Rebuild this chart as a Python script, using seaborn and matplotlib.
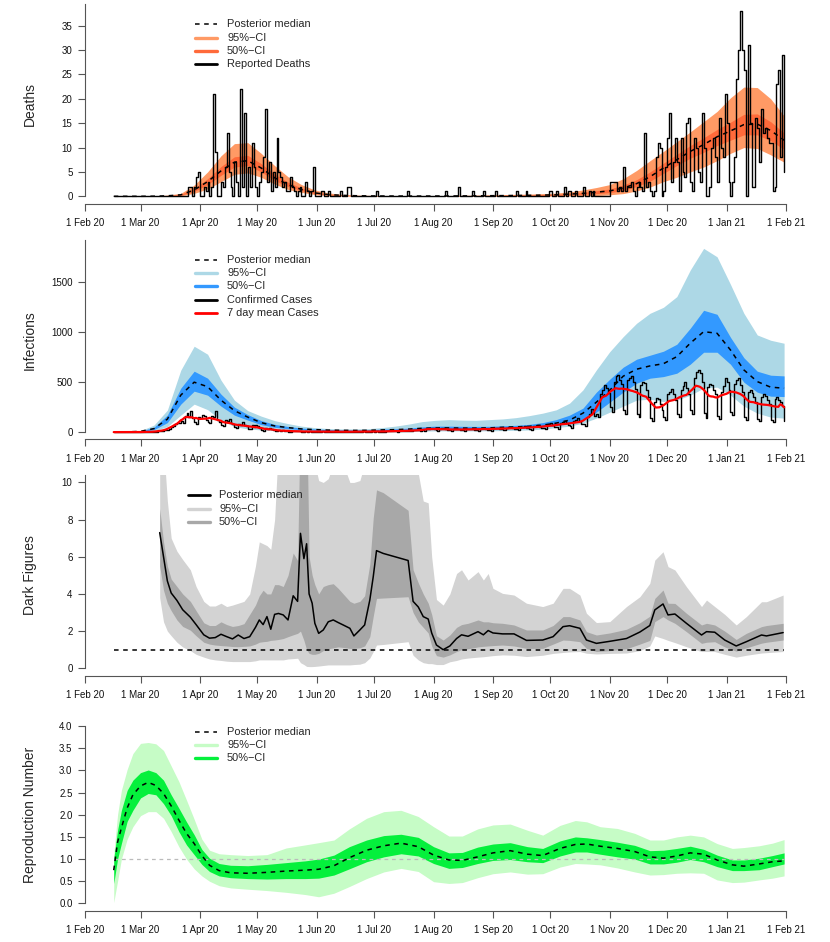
import numpy as np
import pandas as pd
import matplotlib
matplotlib.use("Agg")
import matplotlib.pyplot as plt
import matplotlib.dates as mdates
from matplotlib.lines import Line2D
import seaborn as sns

START = pd.Timestamp("2020-02-01")
END = pd.Timestamp("2021-02-01")

# all day positions are days since 1 Feb 2020
week_days = list(range(15, 366, 7))      # weekly posterior summaries
daily_days = list(range(15, 366))        # daily reported numbers

# ---- deaths panel ----
deaths_reported = [
    0, 0, 0, 0, 0, 0, 0,   0, 0, 0, 0, 0, 0, 0,   0, 0, 0, 0, 0, 0, 0,
    0, 0, 0, 0, 0, 0, 0,   0, 0, 0, 0, 0, 0, 0,   0, 0, 0, 0, 2, 2, 0,
    2, 4, 5, 0, 0, 2, 1,   3, 0, 2, 21, 9, 0, 0,  3, 2, 6, 13, 5, 2, 0,
    7, 3, 0, 22, 2, 17, 0, 6, 2, 11, 6, 2, 0, 3,  5, 8, 18, 3, 7, 1, 5,
    2, 12, 5, 4, 2, 3, 1,  1, 4, 2, 1, 0, 1, 2,   0, 0, 3, 1, 0, 1, 6,
    0, 0, 0, 1, 1, 0, 0,   1, 0, 0, 0, 0, 0, 1,   0, 0, 0, 2, 2, 0, 0,
    0, 0, 0, 0, 0, 0, 0,   0, 0, 0, 0, 1, 0, 0,   0, 0, 0, 0, 0, 0, 0,
    0, 0, 0, 0, 0, 0, 1,   0, 0, 0, 0, 0, 0, 0,   0, 0, 0, 0, 0, 0, 0,
    0, 0, 0, 0, 0, 1, 0,   0, 0, 0, 0, 0, 2, 0,   0, 0, 0, 0, 0, 1, 0,
    0, 0, 0, 0, 1, 0, 0,   0, 0, 0, 1, 0, 0, 0,   0, 0, 0, 0, 0, 0, 0,
    1, 0, 0, 0, 0, 1, 0,   0, 0, 0, 0, 0, 0, 0,   0, 0, 0, 1, 1, 0, 0,
    1, 0, 0, 0, 2, 0, 1,   1, 0, 0, 1, 0, 0, 0,   2, 0, 0, 1, 0, 1, 0,
    0, 0, 0, 0, 0, 0, 0,   3, 3, 3, 3, 1, 2, 1,   6, 1, 2, 2, 3, 1, 0,
    2, 3, 2, 1, 13, 2, 3,  1, 0, 1, 8, 11, 10, 0, 1, 6, 12, 17, 3, 7, 12,
    7, 1, 12, 5, 4, 15, 16, 3, 1, 12, 10, 5, 3, 17, 10, 0, 0, 2, 10, 12, 8,
    3, 16, 10, 8, 21, 15, 3, 0, 3, 8, 24, 30, 38, 30, 26, 0, 31, 15, 2, 2, 16,
    14, 7, 18, 13, 14, 12, 11, 11, 1, 2, 23, 26, 8, 29, 5,
]
deaths_med = [0, 0, 0, 0.02, 0.1, 0.3, 1.3, 3.0, 5.2, 7.0,
              7.3, 5.8, 3.8, 2.4, 1.4, 0.7, 0.35, 0.2, 0.12, 0.08,
              0.06, 0.05, 0.05, 0.05, 0.06, 0.07, 0.08, 0.1, 0.12, 0.14,
              0.17, 0.2, 0.25, 0.3, 0.45, 0.6, 0.85, 1.1, 1.7, 2.6,
              4.0, 5.8, 7.5, 9.2, 10.6, 12.2, 13.4, 14.7, 14.8, 13.5, 11.5]
deaths_hi95 = [0, 0, 0.02, 0.06, 0.25, 0.6, 2.3, 5.0, 8.3, 10.8,
               11.0, 8.8, 6.3, 4.0, 2.4, 1.3, 0.7, 0.4, 0.25, 0.2,
               0.15, 0.13, 0.12, 0.12, 0.14, 0.16, 0.2, 0.25, 0.3, 0.35,
               0.4, 0.45, 0.55, 0.65, 0.9, 1.3, 1.8, 2.4, 3.6, 5.3,
               7.3, 9.2, 11.2, 13.2, 15.3, 17.4, 20.2, 22.4, 22.3, 20.0, 16.5]
deaths_lo95 = [0, 0, 0, 0, 0.02, 0.1, 0.6, 1.5, 3.0, 4.5,
               4.8, 3.9, 2.5, 1.4, 0.8, 0.35, 0.15, 0.05, 0.02, 0.01,
               0.01, 0.01, 0.01, 0.01, 0.01, 0.01, 0.01, 0.02, 0.02, 0.03,
               0.03, 0.04, 0.05, 0.06, 0.08, 0.1, 0.15, 0.3, 0.55, 1.1,
               1.9, 3.0, 3.9, 5.0, 6.0, 7.3, 8.8, 10.0, 9.8, 8.5, 7.0]
deaths_hi50 = [0, 0, 0.01, 0.03, 0.15, 0.39, 1.6, 3.6, 6.1, 8.1,
               8.4, 6.7, 4.55, 2.9, 1.7, 0.88, 0.45, 0.26, 0.16, 0.12,
               0.09, 0.08, 0.08, 0.08, 0.09, 0.1, 0.12, 0.14, 0.17, 0.2,
               0.24, 0.27, 0.34, 0.4, 0.58, 0.8, 1.15, 1.5, 2.3, 3.4,
               5.0, 6.8, 8.6, 10.4, 12.0, 13.7, 15.2, 16.8, 16.9, 15.3, 13.0]
deaths_lo50 = [0, 0, 0, 0.01, 0.06, 0.22, 1.0, 2.4, 4.3, 6.0,
               6.3, 5.0, 3.25, 2.0, 1.15, 0.55, 0.27, 0.14, 0.08, 0.05,
               0.04, 0.03, 0.03, 0.03, 0.04, 0.04, 0.05, 0.06, 0.07, 0.09,
               0.1, 0.12, 0.17, 0.2, 0.3, 0.4, 0.55, 0.75, 1.2, 2.0,
               3.1, 4.7, 6.3, 7.8, 9.0, 10.4, 11.5, 12.6, 12.6, 11.4, 9.6]

# ---- infections panel ----
cases_confirmed = [
    0, 0, 0, 0, 0, 0, 0,          0, 0, 0, 0, 0, 0, 1,
    0, 1, 2, 1, 3, 2, 4,          4, 3, 8, 12, 15, 20, 22,
    25, 30, 50, 65, 80, 90, 95,   110, 95, 160, 196, 150, 210, 140,
    100, 85, 150, 140, 170, 160, 120, 105, 90, 160, 150, 213, 120, 100,
    70, 60, 120, 110, 130, 90, 80, 50, 45, 80, 70, 100, 75, 60,
    35, 30, 70, 50, 75, 60, 40,   20, 15, 40, 35, 45, 30, 25,
    10, 8, 20, 15, 25, 15, 12,    6, 4, 12, 10, 14, 9, 8,
    4, 3, 8, 6, 9, 6, 5,          3, 2, 6, 5, 7, 5, 4,
    3, 2, 5, 4, 6, 4, 3,          2, 2, 5, 4, 6, 4, 3,
    3, 2, 6, 5, 7, 5, 4,          4, 3, 8, 6, 9, 6, 5,
    6, 4, 10, 8, 12, 9, 7,        8, 6, 14, 12, 16, 12, 10,
    12, 8, 20, 18, 24, 18, 14,    18, 12, 30, 35, 45, 40, 30,
    20, 15, 35, 40, 38, 30, 25,   18, 14, 30, 32, 35, 28, 22,
    18, 14, 32, 34, 36, 30, 24,   20, 15, 35, 38, 40, 32, 26,
    22, 16, 40, 42, 45, 36, 30,   25, 18, 45, 48, 50, 40, 34,
    28, 20, 50, 55, 60, 45, 38,   32, 24, 60, 65, 70, 55, 45,
    40, 30, 75, 80, 90, 70, 55,   50, 35, 95, 105, 110, 90, 70,
    60, 45, 115, 120, 140, 110, 85, 80, 60, 150, 180, 230, 200, 160,
    180, 150, 380, 420, 470, 440, 390, 250, 200, 500, 560, 573, 520, 480,
    220, 180, 520, 540, 560, 500, 430, 180, 150, 470, 500, 490, 420, 350,
    140, 110, 300, 340, 330, 280, 220, 150, 120, 380, 400, 430, 380, 320,
    180, 150, 420, 460, 506, 440, 380, 220, 180, 540, 600, 620, 590, 500,
    190, 140, 450, 480, 470, 420, 380, 160, 130, 400, 460, 540, 500, 420,
    200, 170, 480, 520, 540, 470, 400, 150, 120, 400, 420, 390, 350, 300,
    130, 110, 350, 380, 360, 320, 280, 120, 100, 330, 350, 323, 300, 260,
    110,
]
inf_med = [0, 2, 8, 35, 130, 370, 500, 455, 320, 215,
           150, 95, 62, 45, 32, 25, 20, 18, 17, 18,
           22, 25, 30, 38, 42, 42, 40, 40, 42, 48,
           52, 58, 70, 90, 120, 190, 300, 420, 560, 630,
           663, 685, 756, 890, 1006, 990, 823, 623, 506, 450, 440]
inf_hi95 = [0, 5, 15, 70, 220, 620, 860, 780, 520, 320,
            215, 160, 115, 85, 60, 45, 36, 32, 32, 35,
            45, 60, 80, 105, 118, 125, 120, 118, 125, 132,
            145, 165, 190, 223, 290, 423, 623, 806, 956, 1090,
            1190, 1250, 1357, 1623, 1840, 1756, 1480, 1190, 973, 920, 890]
inf_lo95 = [0, 0.5, 2, 12, 55, 170, 280, 225, 120, 55,
            32, 22, 15, 12, 10, 8, 7, 6, 6, 6,
            5, 6, 8, 10, 12, 12, 12, 12, 13, 15,
            18, 22, 30, 45, 60, 90, 140, 200, 260, 320,
            330, 306, 320, 370, 440, 450, 370, 260, 190, 150, 140]
inf_hi50 = [0, 3, 11, 48, 170, 440, 610, 540, 380, 250,
            175, 115, 78, 56, 41, 32, 26, 23, 22, 24,
            30, 34, 40, 52, 60, 60, 58, 57, 58, 63,
            68, 78, 95, 125, 170, 240, 400, 530, 650, 730,
            770, 810, 880, 1040, 1220, 1180, 950, 745, 610, 570, 563]
inf_lo50 = [0, 1.5, 5, 25, 95, 280, 410, 370, 260, 170,
            120, 75, 48, 34, 24, 18, 15, 13, 12, 13,
            15, 17, 22, 26, 30, 30, 28, 28, 29, 33,
            38, 42, 52, 65, 85, 130, 200, 300, 400, 490,
            540, 556, 590, 680, 800, 800, 680, 500, 400, 360, 356]

# ---- dark figures panel ----
dark_days = [39, 41, 43, 45, 48, 51, 55, 58, 62, 65,
             68, 71, 74, 77, 80, 83, 86, 89, 91, 93,
             95, 97, 99, 101, 103.5, 106, 108.7, 111, 112.5, 114.3,
             115.7, 117, 118.6, 120, 122, 124.4, 127, 129.6, 132.2, 134.8,
             138.3, 140.4, 143.5, 146, 148.7, 150.5, 152.2, 155.7, 168.7, 171.3,
             174, 176.6, 179.2, 181, 183.5, 187, 190.5, 194, 196.6, 200,
             205.2, 208, 210.5, 213, 218, 224, 230.5, 239, 244.4, 249.6,
             253, 258.4, 261.8, 267, 274, 282.7, 289.7, 294.9, 297.5, 301.8,
             304.4, 308, 314, 321.9, 324.5, 328.8, 334, 340, 345.3, 353.2,
             355.8, 364.5]
dark_med = [7.3, 6.0, 4.7, 4.05, 3.65, 3.15, 2.75, 2.35, 1.8, 1.62,
            1.65, 1.83, 1.7, 1.58, 1.79, 1.6, 1.7, 2.2, 2.6, 2.35,
            2.78, 2.1, 2.9, 2.95, 2.87, 2.6, 3.9, 3.6, 7.26, 5.9,
            6.7, 4.0, 3.5, 2.42, 1.88, 2.06, 2.5, 2.6, 2.46, 2.33,
            2.15, 1.74, 2.06, 2.33, 3.67, 4.93, 6.33, 6.18, 5.8, 3.6,
            3.3, 2.78, 2.65, 1.9, 1.25, 1.0, 1.2, 1.6, 1.8, 1.72,
            1.97, 1.8, 2.03, 1.9, 1.85, 1.85, 1.5, 1.52, 1.7, 2.24,
            2.29, 2.15, 1.52, 1.34, 1.45, 1.6, 1.95, 2.3, 3.14, 3.46,
            2.87, 2.92, 2.42, 1.79, 1.97, 1.94, 1.52, 1.2, 1.43, 1.79,
            1.74, 1.92]
dark_lo50 = [5.5, 4.2, 3.5, 3.1, 2.6, 2.25, 2.05, 1.75, 1.4, 1.3,
             1.25, 1.22, 1.2, 1.17, 1.16, 1.18, 1.2, 1.3, 1.4, 1.43,
             1.45, 1.5, 1.52, 1.55, 1.6, 1.7, 1.8, 1.88, 2.0, 1.5,
             1.0, 0.8, 0.75, 0.75, 0.8, 0.95, 1.05, 1.1, 1.15, 1.12,
             1.07, 1.07, 1.1, 1.2, 1.7, 2.8, 3.76, 3.78, 3.85, 3.0,
             2.5, 2.2, 1.9, 1.2, 0.68, 0.6, 0.72, 0.9, 1.0, 1.05,
             1.15, 1.18, 1.2, 1.22, 1.25, 1.2, 1.07, 1.07, 1.3, 1.52,
             1.5, 1.43, 1.07, 0.9, 0.95, 1.05, 1.3, 1.5, 2.51, 2.78,
             2.6, 2.42, 1.97, 1.34, 1.4, 1.43, 1.15, 0.92, 1.1, 1.35,
             1.4, 1.52]
dark_hi50 = [8.6, 6.8, 5.5, 4.8, 4.4, 4.0, 3.6, 3.1, 2.45, 2.3,
             2.3, 2.5, 2.35, 2.25, 2.3, 2.4, 2.9, 3.4, 3.9, 4.2,
             4.0, 4.0, 4.5, 4.5, 4.4, 5.0, 6.2, 5.8, 14, 14,
             14, 6.0, 5.0, 4.5, 4.0, 4.4, 4.5, 4.55, 4.3, 4.0,
             3.6, 3.5, 3.6, 3.9, 5.6, 8.1, 9.6, 9.45, 8.5, 5.3,
             4.6, 4.0, 3.5, 2.9, 1.75, 1.52, 1.79, 2.2, 2.35, 2.42,
             2.6, 2.5, 2.5, 2.45, 2.42, 2.33, 2.06, 2.06, 2.3, 2.78,
             2.78, 2.6, 1.97, 1.79, 1.9, 2.1, 2.45, 2.8, 3.76, 4.21,
             3.5, 3.49, 2.96, 2.33, 2.42, 2.33, 2.0, 1.55, 1.88, 2.24,
             2.3, 2.42]
dark_lo95 = [3.8, 2.5, 2.0, 1.75, 1.4, 1.15, 0.95, 0.75, 0.6, 0.5,
             0.45, 0.42, 0.38, 0.36, 0.36, 0.36, 0.36, 0.4, 0.45, 0.45,
             0.45, 0.45, 0.45, 0.45, 0.45, 0.5, 0.52, 0.54, 0.3, 0.2,
             0.1, 0.09, 0.09, 0.1, 0.12, 0.15, 0.18, 0.18, 0.18, 0.18,
             0.18, 0.2, 0.22, 0.3, 0.55, 0.9, 1.25, 1.28, 1.43, 0.7,
             0.45, 0.3, 0.25, 0.25, 0.2, 0.2, 0.35, 0.42, 0.5, 0.55,
             0.6, 0.62, 0.65, 0.68, 0.72, 0.7, 0.63, 0.7, 0.8, 0.85,
             0.88, 0.9, 0.81, 0.77, 0.8, 0.82, 0.95, 1.2, 1.74, 1.6,
             1.5, 1.38, 1.16, 0.9, 0.9, 0.9, 0.75, 0.6, 0.7, 0.82,
             0.84, 0.9]
dark_hi95 = [14, 12, 9.0, 7.0, 6.3, 5.85, 5.3, 4.4, 3.6, 3.35,
             3.35, 3.5, 3.32, 3.4, 3.5, 3.6, 4.0, 5.5, 6.8, 6.7,
             6.6, 6.4, 8.0, 12, 12, 12, 12, 12, 14, 14,
             14, 13, 12, 11, 10.1, 10.0, 10.2, 11, 12, 11,
             10.0, 10.0, 10.1, 11, 13, 14, 14, 14, 14, 12,
             10.5, 9.0, 8.9, 6.0, 3.7, 3.4, 4.0, 5.1, 5.3, 4.75,
             5.2, 4.75, 5.1, 4.3, 4.03, 3.94, 3.5, 3.32, 3.5, 4.3,
             4.3, 3.94, 2.96, 2.46, 2.51, 3.32, 3.85, 4.57, 5.82, 6.27,
             5.47, 5.29, 4.39, 3.32, 3.67, 3.32, 2.9, 2.33, 2.78, 3.58,
             3.58, 3.94]

# ---- reproduction number panel ----
r_days = [15, 17, 19, 22, 25, 29, 33, 37, 41, 45,
          49, 53, 57, 61, 65, 70, 76, 85, 95, 105,
          115, 122, 130, 138, 147, 156, 165, 174, 182, 190,
          197, 205, 213, 222, 231, 239, 248, 256, 262, 269,
          278, 287, 295, 302, 309, 316, 323, 330, 338, 344,
          352, 359, 365]
r_med = [0.75, 1.38, 1.7, 2.15, 2.45, 2.65, 2.73, 2.66, 2.48, 2.2,
         1.88, 1.58, 1.35, 1.08, 0.86, 0.74, 0.69, 0.68, 0.7, 0.73,
         0.75, 0.77, 0.85, 1.03, 1.2, 1.3, 1.36, 1.28, 1.09, 0.98,
         0.97, 1.05, 1.14, 1.19, 1.11, 1.08, 1.24, 1.33, 1.34, 1.29,
         1.24, 1.17, 1.05, 1.02, 1.07, 1.14, 1.11, 0.98, 0.87, 0.84,
         0.89, 0.94, 0.96]
r_lo50 = [0.45, 1.0, 1.35, 1.85, 2.1, 2.38, 2.48, 2.45, 2.25, 1.98,
          1.62, 1.32, 1.1, 0.88, 0.72, 0.62, 0.58, 0.56, 0.55, 0.56,
          0.56, 0.57, 0.64, 0.78, 0.94, 1.05, 1.12, 1.07, 0.9, 0.79,
          0.81, 0.9, 0.97, 0.99, 0.94, 0.92, 1.07, 1.16, 1.16, 1.11,
          1.05, 1.0, 0.89, 0.89, 0.93, 0.99, 0.94, 0.83, 0.74, 0.74,
          0.76, 0.83, 0.89]
r_hi50 = [1.0, 1.65, 2.1, 2.55, 2.78, 2.95, 3.01, 2.95, 2.78, 2.45,
          2.15, 1.84, 1.55, 1.22, 1.02, 0.9, 0.86, 0.85, 0.88, 0.92,
          0.96, 1.0, 1.09, 1.28, 1.43, 1.53, 1.56, 1.49, 1.28, 1.14,
          1.15, 1.27, 1.34, 1.37, 1.28, 1.24, 1.41, 1.5, 1.48, 1.44,
          1.38, 1.31, 1.19, 1.2, 1.24, 1.29, 1.22, 1.09, 0.98, 0.98,
          1.02, 1.08, 1.14]
r_lo95 = [0.02, 0.5, 1.0, 1.45, 1.73, 1.98, 2.07, 2.07, 1.92, 1.62,
          1.28, 1.0, 0.78, 0.62, 0.5, 0.4, 0.35, 0.32, 0.29, 0.25,
          0.2, 0.15, 0.23, 0.38, 0.56, 0.71, 0.79, 0.72, 0.49, 0.45,
          0.47, 0.58, 0.67, 0.71, 0.66, 0.67, 0.82, 0.9, 0.89, 0.87,
          0.8, 0.71, 0.64, 0.65, 0.68, 0.69, 0.68, 0.53, 0.47, 0.48,
          0.53, 0.57, 0.62]
r_hi95 = [1.1, 2.0, 2.55, 3.02, 3.38, 3.61, 3.63, 3.6, 3.45, 3.1,
          2.75, 2.33, 1.9, 1.45, 1.2, 1.12, 1.1, 1.08, 1.1, 1.25,
          1.32, 1.37, 1.43, 1.68, 1.92, 2.07, 2.1, 1.96, 1.73, 1.52,
          1.52, 1.68, 1.77, 1.79, 1.65, 1.54, 1.76, 1.87, 1.84, 1.73,
          1.69, 1.58, 1.43, 1.43, 1.5, 1.54, 1.5, 1.35, 1.24, 1.26,
          1.3, 1.36, 1.44]

# colours
DEATH95, DEATH50 = "#FF9A65", "#FF6A3A"
INF95, INF50 = "#ADD8E6", "#3399FF"
DARK95, DARK50 = "#D3D3D3", "#A8A8A8"
R95, R50 = "#C6FCC6", "#05F03C"
AX_COLOR = "#555555"
DASH = (0, (3, 3))

W, H = 830, 942


def to_dates(days):
    return START + pd.to_timedelta(np.asarray(days, dtype=float), unit="D")


sns.set_theme(style="white")
plt.rcParams["font.family"] = ["Liberation Sans", "DejaVu Sans"]

fig = plt.figure(figsize=(W / 100, H / 100), dpi=100)


def panel(top, bottom):
    return fig.add_axes([85 / W, 1 - bottom / H, 701 / W, (bottom - top) / H])


def style(ax, ylim, yticks, ytop, fmt="{:g}"):
    ax.set_xlim(START, END)
    ax.set_ylim(*ylim)
    ax.set_yticks(yticks)
    ax.set_yticklabels([fmt.format(t) for t in yticks])
    ax.xaxis.set_major_locator(mdates.MonthLocator(bymonthday=1))
    ax.xaxis.set_major_formatter(mdates.DateFormatter("%-d %b %y"))
    for s in ("top", "right"):
        ax.spines[s].set_visible(False)
    for s in ("left", "bottom"):
        ax.spines[s].set_color(AX_COLOR)
        ax.spines[s].set_linewidth(0.8)
    ax.spines["left"].set_bounds(0, ytop)
    ax.tick_params(axis="both", bottom=True, left=True, direction="out", length=5,
                   width=0.8, color=AX_COLOR, labelsize=7, labelcolor="#111111")
    ax.tick_params(axis="x", pad=5.5)
    ax.tick_params(axis="y", pad=4)
    ax.set_xlabel("")
    ax.set_ylabel("")
    ax.grid(False)


def ylabel(text, top, bottom):
    fig.text(30 / W, 1 - (top + bottom) / 2 / H, text, rotation=90,
             ha="center", va="center", fontsize=10)


def legend(rows, ys, x0=195, x1=217, xt=227):
    for (label, kw), y in zip(rows, ys):
        fy = 1 - y / H
        fig.add_artist(Line2D([x0 / W, x1 / W], [fy, fy], transform=fig.transFigure, **kw))
        fig.text(xt / W, fy, label, fontsize=7.9, ha="left", va="center")


wd = to_dates(week_days)
dd = to_dates(daily_days)

# 1. Deaths
ax1 = panel(3.6, 203.7)
ax1.fill_between(wd, deaths_lo95, deaths_hi95, color=DEATH95, lw=0)
ax1.fill_between(wd, deaths_lo50, deaths_hi50, color=DEATH50, lw=0)
sns.lineplot(x=wd, y=deaths_med, ax=ax1, color="black", lw=1.1, linestyle=DASH, estimator=None)
sns.lineplot(x=dd, y=deaths_reported, ax=ax1, color="black", lw=1.0,
             drawstyle="steps-post", estimator=None)
style(ax1, (-1.52, 39.52), list(range(0, 40, 5)), 39.52)
ylabel("Deaths", 3.6, 203.7)
legend([("Posterior median", dict(color="black", lw=1.1, linestyle=DASH)),
        ("95%\u2212CI", dict(color=DEATH95, lw=2.4)),
        ("50%\u2212CI", dict(color=DEATH50, lw=2.4)),
        ("Reported Deaths", dict(color="black", lw=2.0))],
       [24, 38, 51, 64])

# 2. Infections
ax2 = panel(240, 439.5)
cases = pd.Series(cases_confirmed, index=dd, dtype=float)
cases_mean7 = cases.rolling(7, center=True, min_periods=1).mean()
ax2.fill_between(wd, inf_lo95, inf_hi95, color=INF95, lw=0)
ax2.fill_between(wd, inf_lo50, inf_hi50, color=INF50, lw=0)
sns.lineplot(x=wd, y=inf_med, ax=ax2, color="black", lw=1.1, linestyle=DASH, estimator=None)
sns.lineplot(x=dd, y=cases.values, ax=ax2, color="black", lw=1.0,
             drawstyle="steps-post", estimator=None)
sns.lineplot(x=dd, y=cases_mean7.values, ax=ax2, color="red", lw=1.6, estimator=None)
style(ax2, (-74, 1924), [0, 500, 1000, 1500], 1924)
ylabel("Infections", 240, 439.5)
legend([("Posterior median", dict(color="black", lw=1.1, linestyle=DASH)),
        ("95%\u2212CI", dict(color=INF95, lw=2.4)),
        ("50%\u2212CI", dict(color=INF50, lw=2.4)),
        ("Confirmed Cases", dict(color="black", lw=2.0)),
        ("7 day mean Cases", dict(color="red", lw=2.0))],
       [259.7, 273, 286.3, 300, 313.3])

# 3. Dark figures
ax3 = panel(475, 675.7)
dk = to_dates(dark_days)
ax3.fill_between(dk, dark_lo95, dark_hi95, color=DARK95, lw=0)
ax3.fill_between(dk, dark_lo50, dark_hi50, color=DARK50, lw=0)
sns.lineplot(x=dk, y=dark_med, ax=ax3, color="black", lw=1.1, estimator=None)
ax3.hlines(1, dd[0], dd[-1], color="black", lw=1.1, linestyle=DASH)
style(ax3, (-0.4, 10.4), [0, 2, 4, 6, 8, 10], 10.4)
ylabel("Dark Figures", 475, 675.7)
legend([("Posterior median", dict(color="black", lw=2.0)),
        ("95%\u2212CI", dict(color=DARK95, lw=2.4)),
        ("50%\u2212CI", dict(color=DARK50, lw=2.4))],
       [495, 509, 522], x0=188, x1=210, xt=219)

# 4. Reproduction number
ax4 = panel(719, 910.5)
rd = to_dates(r_days)
ax4.fill_between(rd, r_lo95, r_hi95, color=R95, lw=0)
ax4.fill_between(rd, r_lo50, r_hi50, color=R50, lw=0)
ax4.hlines(1, dd[0], dd[-1], color="#BBBBBB", lw=0.9, linestyle=DASH)
sns.lineplot(x=rd, y=r_med, ax=ax4, color="black", lw=1.1, linestyle=DASH, estimator=None)
style(ax4, (-0.16, 4.16), [0, 0.5, 1, 1.5, 2, 2.5, 3, 3.5, 4], 4, fmt="{:.1f}")
ylabel("Reproduction Number", 719, 910.5)
legend([("Posterior median", dict(color="black", lw=1.1, linestyle=DASH)),
        ("95%\u2212CI", dict(color=R95, lw=2.4)),
        ("50%\u2212CI", dict(color=R50, lw=2.4))],
       [731.7, 745, 758.3])

fig.savefig("out.png", dpi=100)
